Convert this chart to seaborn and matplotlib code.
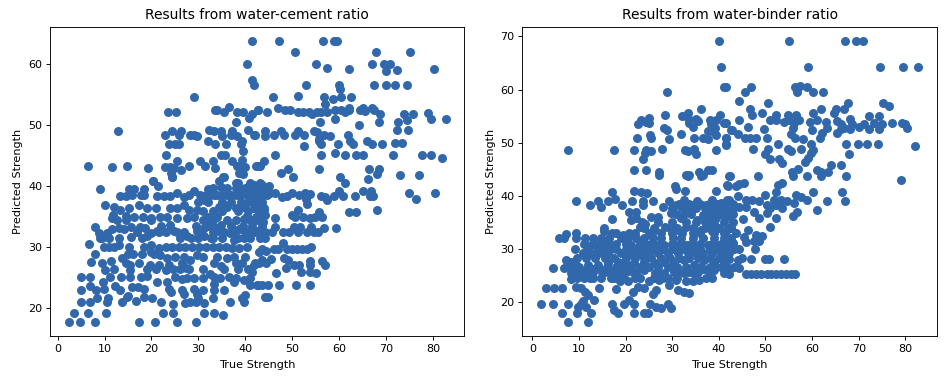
import matplotlib
matplotlib.use("Agg")
import matplotlib.pyplot as plt
import pandas as pd
import seaborn as sns

POINT_COLOR = "#3167ab"

# (true strength, predicted strength)
wc_upper = [
    (41.3,63.9),(40.4,60.1),(41.5,57.5),(41.8,56.7),(29.1,54.7),(23.5,52.2),(25.2,52.2),(33.5,52.5),(34,52.5),
    (35.5,52.2),(36.5,53),(38.2,52.2),(39.4,52.2),(42.6,52.5),(41.4,51.9),(40.7,51.2),(38,50.6),(12.8,49.1),
    (22.9,48.5),(24.4,49.1),(25.8,48.5),(26.3,49.1),(28.3,48.5),(29,48.5),(29.7,48.3),(32.3,49.3),(33.4,49.1),
    (34.8,49.1),(35,48.3),(37.2,49.1),(37,48.5),(38.1,48.3),(40.5,49.3),(41.8,48.5),(23.8,46.9),(25.1,46.9),
    (25.8,46.9),(32.1,47.4),(33.5,46.9),(35.9,46.9),(39.2,47.4),(39,46.9),(39.5,45.8),(23,45.1),(25.5,44.2),
    (30.4,44.2),(33.2,44.2),(34.7,45.1),(35.6,45.1),(37.2,44.2),(39.2,44.4),(6.5,43.3),(11.7,43.2),(14.8,43.3),
    (19.3,43),(22.8,43.2),(24,43.2),(24.8,43),(26.2,42.7),(28,43.3),(31.4,43.3),(33.5,43),(38.1,43.3),(39.3,43),
    (40,43.2),(38.6,42.2),(39.4,42),(42.3,43.3),(43,43.4),(24.1,42.2),(24.3,41.5),(20.4,40.9),(35.2,41.5),(34.3,40.9),
    (47.1,63.9),(56.5,63.9),(58.9,63.9),(59.5,63.9),(50.6,62),(67.7,62),(75,62),(55,60.1),(57.4,59.4),(62,59.3),
    (67,60.1),(69.4,60.1),(70.8,60.1),(70,59),(72.2,59.1),(80.2,59.3),(52.8,56.7),(59.9,56.7),(60.2,55.9),(67.4,56.7),
    (69.9,56.7),(71.8,56.7),(74.3,56.7),(45.9,54.7),(51.1,54.8),(56.8,54.7),(58.7,54.4),(60.4,54.7),(62.5,54.7),
    (42.7,52.5),(44.6,52.2),(46.9,52.9),(48.5,52.5),(49.4,52.5),(51.1,52.2),(52.3,52.2),(53.5,52.2),(54.2,51.9),
    (55.3,52.2),(56,52.2),(57.4,52.2),(56.9,53.5),(59.1,51),(59,52.5),(60.4,52.5),(61.3,52.2),(62,52.9),(62.1,52.5),
    (64.4,52.5),(65,52.9),(65.5,52.4),(66.9,52.9),(67.4,52.5),(68.7,51.8),(68.5,50.6),(55.8,50.6),(64.2,50.1),
    (73.8,51.8),(75.6,51.8),(74.4,50.9),(72.4,50.6),(72.2,49.3),(74.6,49.3),(78.8,52.1),(79.5,51),(82.6,51),
    (42.1,48.5),(44.1,49.1),(44.2,48.3),(46,48.5),(47.5,49.1),(48.2,48.5),(50.6,48.5),(51.1,49.1),(52.4,48.5),
    (54.5,49.1),(55.2,48.9),(56.7,48.5),(58,48.3),(61.8,48.5),(55.6,47.7),(56,46.9),(55.6,47.4),(52.4,46.6),
    (59.7,46.9),(62.2,47.4),(63,46.9),(65.8,47.4),(66.9,46.9),(69,46.9),(71.8,47.1),(73.4,47.1),(46.4,45.1),
    (56,45.1),(59.1,45.5),(61.3,45.1),(63.6,45.1),(65,45.1),(71.4,45.1),(77.5,45.1),(79.5,45.1),(81.9,44.7),
    (43.9,44.2),(42.7,43.4),(47.5,42.2),(49,42.9),(50.2,41.5),(55.6,42.9),(60.1,41.5),(66.3,42.9),(68.4,42.9),
    (68,42.1),(66.1,41.3),(73,41.9),(77,41.9),
]
wc_lower_right = [
    (61.3,40.5),(42.5,40),(43.5,40.2),(45,40),(45.3,38.9),(46.4,39),(47.7,38.2),(48.9,38.5),(50,38.9),(51.4,38.6),
    (52.6,39),(52.8,38),(53.7,38.8),(53.1,37.2),(56,38.5),(57,38.2),(57.4,37.8),(58.8,38.5),(59.9,39.3),(60.7,38.5),
    (63.3,38.5),(65,39.3),(66.7,39.3),(66.6,38.4),(67.2,38.4),(74.8,39),(76.4,38),(80.3,38.9),(62,35.8),(63.5,35.8),
    (68,36.1),(51.1,36.1),(50,35.4),(50.6,35),(52.3,35),(53.7,34.8),(54.9,35),(55.6,35.8),(56.3,35),(46.4,34.8),
    (43.7,34.2),(43.9,36.1),(44.2,35.3),(42.8,35.6),(42.1,32.5),(43.2,32.5),(44.2,32.5),(45.7,32.5),(46.4,33.3),
    (48,32.5),(49.2,32.5),(50.3,33.3),(51.2,32.5),(51.7,33.3),(53.1,32.5),(54,33.3),(54.7,32.5),(55.5,32.5),
    (56.7,33.2),(59.3,33.2),(44.2,31.5),(43.5,29.8),(44.4,29.4),(46,29.8),(47,29.8),(48,30.7),(48.9,29.8),(50,29.8),
    (51,29.8),(52,29.8),(53.1,29.8),(54,30.1),(42.1,27.4),(43.5,27.9),(44.4,27.4),(45.5,28.1),(48.2,28.2),(49,27.9),
    (48.7,26.6),(50.3,27.2),(51.4,27.1),(51.9,26),(53.8,27.7),(53.8,26),(55,25.8),(56.2,27.7),(56.9,27.2),(46.5,25.8),
    (53.8,27.1),(42.5,23.8),(43.5,23.8),(44.8,23.8),(47.1,23.8),(50.8,23.8),(53.8,23.8),(44.2,21.9),(44.8,21.9),
    (42.1,39.2),(43.2,39.5),(44.2,39.5),(42.5,38),(42.8,37.2),(42.1,36.4),(43.9,36.4),(43.2,35.3),(42.3,35),
]
wc_lower_left = [
    (2.4,17.8),(4.7,17.8),(7.9,17.8),(17.3,17.8),(20.8,17.8),(25.5,17.8),(29.4,17.8),(3.5,19.2),(6.5,19.2),(10.3,19.2),
    (22.5,19.2),(24.5,19.2),(31.2,19.2),(33.3,19.2),(35.3,19),(4.9,21.1),(7,21),(8.4,21.7),(10.7,21.7),(10.6,21.1),
    (13.8,21.1),(14.7,21.8),(16.7,21.2),(18.4,21.8),(20.2,21.7),(22,21),(24.5,20.7),(27.1,20.9),(28.3,21.1),(29.4,21.1),
    (30,21.7),(31.2,20.9),(33,21.7),(36.7,21.1),(39.7,21.1),(40,22.2),(39.3,21.7),(4.9,23.1),(7,23.6),(8.1,23),(9.7,24.3),
    (9.9,23.2),(12.3,23.6),(13.4,23),(14.9,22),(15.8,23.5),(17.1,23.5),(18.4,23.2),(21.2,24.3),(23.7,23.2),(24.2,22.7),
    (26.5,23),(26.9,22.4),(29,23.2),(31,23),(29.7,22.4),(33.3,23),(35.5,23),(41,23.8),(42.6,23.8),(5.1,25.1),(7,25.1),
    (11.1,25.1),(13.6,25.1),(15.5,25.1),(17.7,25.1),(19,25.4),(23.2,24.4),(25.1,25.1),(26.5,24.8),(32.4,25.7),(33.3,25.1),
    (33.3,24),(36.5,25.1),(37.5,24.3),(39.6,24.6),(7.2,27.6),(7.9,28.9),(9.5,27.4),(10.2,26.3),(11.3,27.7),(13.8,28.2),
    (14.5,27.4),(15.5,27.1),(17.3,27.4),(15.5,26.3),(19.6,27.1),(21.6,27.1),(23,26.3),(23.7,27.1),(26.5,27.4),(28.3,27.9),
    (27.4,26.6),(29.7,28.8),(33.3,27.4),(34.7,26.9),(36.1,28.2),(37.9,27.5),(39.3,27.4),(41.8,27.1),(41.4,26),(42.8,27.5),
    (6.7,30.5),(15.2,30.1),(9.9,30.1),(10.9,30.1),(12,30.1),(13,30.4),(18.4,30.1),(19.8,30.4),(21.6,29.9),(23,30.1),
    (24.4,30.1),(25.8,30.1),(27.2,30.1),(28.7,30.1),(30.1,30.1),(31.5,30.1),(33,30.1),(34.3,30.1),(35.8,30.1),(37.2,29.9),
    (38.6,29.9),(40.4,30),(42.8,29.3),(21.9,28.7),(23.3,28.2),(19.8,29.2),(7.9,33.3),(8.8,32.4),(9.5,31.6),(10.6,32.4),
    (11.7,33),(13,33.2),(14.1,33),(15.7,33.4),(15.7,31.7),(17.5,33.3),(18.7,33.2),(19.8,32.4),(21.2,32.7),(18,31.6),
    (19.1,31.9),(24,33.7),(24.8,32.7),(26.2,32.1),(27.6,31.9),(29.7,32.7),(31.1,33.2),(32.2,34.3),(33.3,33.4),(31.1,31.9),
    (34,32.7),(32.6,31.6),(36.8,32.4),(38.6,33),(39.6,34.6),(40.4,35.2),(41,32.7),(42.5,32.7),(37.5,31.3),(39.6,31.6),
    (34.7,33.7),(10.1,36.9),(12,36.7),(13.4,36.2),(15.2,36.4),(17.3,36.9),(19.1,36.4),(21,36.4),(24,36.4),(25.5,36.4),
    (26.9,37),(28,36.2),(29.7,36.2),(34.3,36.7),(36.1,36.7),(37.9,36.4),(39.6,36.7),(41.8,36.4),(11.6,34.8),(11.8,35.3),
    (14.5,35.2),(16.2,35),(18.2,35),(19.8,34.8),(21.9,35),(23.3,35),(25.5,34.8),(27.6,34.8),(29,35),(32,35),(34,35),
    (9.1,39.6),(13.4,38.5),(15.2,39.6),(16.2,39.6),(18.4,39.6),(14.5,38.5),(15.9,38.6),(17.7,38.6),(18.4,38.6),(21.2,38.5),
    (22.6,38.5),(24,38.5),(25.5,39),(26.9,38.3),(29,39.3),(30.4,38.6),(32.1,39.6),(33.3,38.6),(34.7,39.9),(35.4,41.6),
    (36.1,38.6),(37.9,40.5),(39.3,39.6),(40.4,38.6),(41.8,40.2),(42.8,39.2),(41,37.6),(37.9,38.6),(31.1,37.8),(20.4,40.9),
    (21.3,40),(24.3,41.5),
]
# the solid middle of the cloud, one predicted value with its true values per row
wc_dense = [
    (40.5, [38.5, 41, 43]),
    (39.8, [33, 36, 38, 40, 41, 42.5, 44]),
    (38.6, [27.9, 31.5, 32.5, 34, 35, 37, 38.8, 41, 42, 43.5, 44.5]),
    (37.5, [30, 32, 35, 37, 39, 40.5, 42, 43.5]),
    (36, [31, 33, 35, 38.5, 40.5, 43]),
    (34.5, [12.7, 14.5, 20, 31, 33, 36, 38, 41, 42.5]),
    (33.5, [22, 29.5, 32, 37, 39.5, 41.5, 43.5]),
    (32.5, [17, 21.5, 23, 25.5, 27, 30.5, 33, 35.5, 37.5, 40]),
    (31.5, [9, 11, 13, 26, 28.5, 30, 33, 35, 38.5, 41, 43]),
    (29, [15, 16, 18, 20.5]),
    (28.5, [25, 27, 31, 34, 37.5, 40]),
    (26.5, [12, 19, 21, 24.5, 26, 28, 31, 35.5, 38.5, 40.5]),
    (25, [27.5, 29, 31, 34.5, 38, 41]),
]

# (true strength, predicted strength)
wb_upper = [
    (40.1,69.2),(40.5,64.2),(41.2,60.4),(28.8,59.6),(36.2,56.3),(28.5,55.2),(25,54.6),(23.2,54.2),(22.7,53.5),(24.4,53.9),
    (25,53.8),(32.2,55.1),(33.3,55.6),(33.3,54.7),(33.6,53.8),(34.4,53),(35.5,54),(35.1,54.5),(38,54.3),(39.4,54.3),
    (40.3,55.2),(41.1,53.8),(38.3,53.5),(39.2,52.8),(37.7,52.2),(38.6,52.2),(39.4,51.4),(28.3,52.7),(28.8,52.3),(25.3,51.4),
    (25.5,50.9),(22.5,50.9),(29.4,50.7),(31.9,51.7),(34.7,50.9),(36.7,50.9),(37.7,50.7),(41.5,50.9),(42.7,52.3),(41.6,49.6),
    (7.6,48.7),(17.6,48.7),(21.7,48.7),(24.4,48.7),(24.2,48),(25.5,48.4),(23.8,47),(27.9,48.9),(32.7,48.7),(33.3,48.4),
    (34.7,48.9),(35.1,47.9),(39.4,48.7),(21.7,44.8),(24.4,44.8),(27.2,44.4),(33,43.9),(33.6,43.9),(35.8,44.4),(36.5,43.9),
    (37.7,44.8),(38.6,44.8),(42.2,43.8),(55,69.2),(67,69.2),(69.4,69.2),(70.9,69.2),(59.1,64.2),(74.6,64.2),(79.5,64.2),
    (82.7,64.2),(41.5,60.4),(46.8,60.4),(45.6,59.6),(44.4,57.9),(56.3,60.4),(57.3,60.6),(59,60.4),(56.7,59.6),(60.3,59.6),
    (62.4,59.6),(50.5,57.4),(46.6,56.4),(47.2,55.2),(49.2,55.6),(44.4,54.3),(41.5,53.8),(46.2,53),(42.8,52.3),(44.1,51.7),
    (49.7,52.6),(50.9,54.3),(52.2,55.3),(52.2,54.3),(53.9,53.9),(54.9,55.3),(55,54.2),(56.5,55.3),(57.2,54.3),(56.1,53.8),
    (56,52.7),(55.4,51.7),(56.3,50.9),(58,50.7),(50.3,50.9),(47.9,50.9),(45.6,50.9),(46.6,50.9),(41.5,50.9),(41.6,49.7),
    (52.6,49.7),(47.3,48.9),(50.6,48.9),(50,47.9),(51,47),(54.9,48.9),(55.4,48.4),(57.6,48.9),(59.8,49.7),(60.2,48.7),
    (59.7,48),(59.2,47.1),(58.5,46.4),(52.8,47),(53.5,46.1),(64,45.8),(66.1,45.8),(56.9,45),(55.6,44.4),(56,43.8),(58.9,43.8),
    (61.1,44.8),(62,44.4),(62,43.8),(63.5,44.4),(67.2,43.8),(42.4,43.8),(48.3,43.8),(79,43),(60.3,55.5),(62,56.4),(59.6,53.9),
    (59.9,52.4),(61.1,54.2),(62.1,51.8),(61.8,50.9),(62.9,53.9),(63.3,52.8),(64.6,55.6),(65.1,56.4),(66.8,56.4),(67.7,57.4),
    (65.4,54.1),(66.1,53.5),(66.8,52.8),(65.4,51.8),(66.1,52.5),(68.2,54.4),(68.6,53.5),(68.2,52.5),(70,53),(71.1,53.5),
    (72.1,55.1),(72.1,52.5),(73.2,53.8),(74.4,55.1),(74.4,52.5),(75,53.5),(75.2,57.4),(76.4,56.9),(77.1,53.8),(79.3,53.7),
    (80,53.5),(80.4,52.7),(67.3,49.7),(69.8,49.7),(71.8,49.7),(74.2,49.7),(82,49.4),(67.9,47.8),
]
wb_lower_right = [
    (53.6,42.5),(52.6,42),(44.4,42.2),(45.4,42.4),(43.6,41.8),(41.8,42),(52.2,40.8),(49.8,40.2),(60.3,40.7),(66.4,40.7),
    (56.5,40.2),(57.6,39.7),(59,39.2),(63.2,39),(67,39),(44,39.9),(41.8,39.3),(45.8,39.3),(47.2,39.3),(48.6,39),(50.4,38.3),
    (51.8,39.3),(53.3,39.3),(54.7,39),(56.1,38.6),(44.4,38),(45.8,38),(51,37.7),(52.2,38.3),(53.6,37.7),(56.7,36.9),(55.8,36.3),
    (61.1,37.3),(47.6,36.9),(48.6,35.8),(52.2,35.8),(50.4,36.7),(42.2,37.1),(42,36.2),(45.1,35.7),(51,34.1),(46.2,33.6),
    (42.6,33.9),(41.5,33.3),(43.6,33),(47.9,32.7),(49.2,32.5),(45.4,32.3),(42.6,32),(48.6,31.5),(47.6,31.5),(45.8,31.4),
    (43,31.1),(42.2,30.1),(43.3,30.1),(44.4,30.1),(47.8,30.1),(41.5,28.2),(42.2,28.2),(44,27.9),(45,28.3),(47,28.2),(49.9,28.2),
    (50.8,28.2),(53.9,28.2),(41.8,26.7),(43.3,26.7),(44.4,26.4),(42.2,25.3),(45.8,25.3),(46.8,25.3),(47.9,25.3),(49,25.3),
    (50.4,25.3),(51.1,25.3),(52.2,25.3),(53.3,25.3),(54.3,25.3),(55.4,25.3),(56.3,25.3),
]
wb_lower_left = [
    (7.6,16.3),(12,16.3),(6.3,18),(1.9,19.7),(4.4,19.7),(7.6,19.7),(9.8,19.1),(10.5,19.7),(11.6,19.1),(12.5,18),(9.6,18),
    (10.8,20.2),(13.3,20.4),(17,19.7),(17.6,18.5),(18.3,18),(19.7,19.7),(20.8,20.4),(21.7,19.7),(21.9,18),(23.9,18),(24.7,18),
    (25.3,19.7),(26.5,19.1),(27.6,19),(29,19.7),(29.7,19),(3,22.6),(4.6,22.6),(6.3,22.6),(4.5,26.4),(6.7,26.4),(18,22.4),
    (14.2,22.6),(9.4,22.9),(11.2,22),(11.9,21.3),(10.5,22.6),(21.5,22),(22.6,22.9),(24,22.6),(25.8,21.6),(26.5,22.3),(31.2,22.3),
    (32.6,22),(33.7,21.8),(29.4,23.2),(30.8,24.1),(33,24),(34.4,24),(35.8,24.1),(37.2,24.5),(38.6,24.5),(20.5,24),(25.1,24),
    (27.2,24.1),(29,24.5),(18.7,24),(7.3,27.9),(8.3,27.5),(9.4,27),(8.3,25.4),(8.3,24.3),(10.1,26),(11.2,25.1),(12.3,24.5),
    (13,26.3),(14.8,24.5),(15.5,25.7),(16.9,24.5),(18.3,25.7),(11.9,27),(14,27),(16.2,27.3),(18.3,27.5),(20.5,27),(22.2,25.7),
    (24,26),(26.2,25.4),(28.3,25.4),(30.4,25.7),(32.6,25.4),(34.7,25.4),(36.9,26.3),(39,26),(41.1,25.4),(42.2,26),(19.7,27.6),
    (21.9,27.3),(24,27.6),(26.2,27.3),(28.3,27.6),(30.4,27.3),(32.6,27.9),(34.7,27),(36.9,27.9),(39,27.3),(41.1,27.6),
    (10.8,29.2),(12.6,29.2),(14.4,29.2),(16.2,29.2),(19,29.2),(21.2,29.2),(23,29.2),(25.1,29.2),(26.9,29.2),(29,29.2),(31.2,29.2),
    (33.3,29.2),(35.1,29.2),(36.5,29.2),(38.6,29.2),(40.4,29.2),(42.2,29.2),(12.6,30.8),(14.4,30.8),(16.9,30.8),(21.2,30.8),
    (24.7,30.8),(26.5,30.8),(28.3,30.8),(31.2,30.8),(33,30.8),(34.7,30.8),(37.6,30.8),(39.7,30.8),(41.5,30.8),(5.8,32),(6.7,32),
    (9.4,32),(11.2,32),(13,32),(14.8,32),(16.5,32),(19,32),(20.5,32),(22.2,32),(24,32),(25.8,32),(27.6,32),(30.1,32),(31.9,32),
    (34.4,32),(36.5,32),(39,32),(41.1,32),(9.2,30),(16.9,30),(7.3,32.8),(9.4,33),(15.3,34),(15.3,33.3),(19.4,32.6),(20.8,33),
    (26.2,33.6),(28.5,34.1),(31.2,33.6),(33,34.2),(36.2,33.6),(38.6,33.3),(41.9,33.9),(17,35.7),(21.2,35.5),(22.2,35.8),
    (24.2,34.8),(25.5,36),(26.9,36),(23,34.2),(31.9,35.8),(35.4,35.5),(39.4,35.8),(37.6,35.2),(41.5,36.4),(9.3,39.1),(12.4,38.3),
    (14,39.1),(14.8,38),(16.2,39.1),(17.8,39.4),(19.3,38.3),(21.3,39.1),(23.7,39.1),(25.8,39.1),(23.7,38.3),(20.8,37),(22.3,37),
    (28,38),(29.4,39),(30.8,38.3),(32.6,39.2),(34,38.3),(35.4,39),(37.2,38.3),(38.6,39.2),(40.4,38.6),(42.2,39.2),(34,37),
    (36.5,36.4),(29.7,36.7),(39,37.4),(17,40.8),(21.7,41),(23.3,40.8),(24.5,40.5),(30.6,41.8),(30.8,41.3),(32.7,41),(39.4,41),
    (41.9,41.9),(33.3,43.8),(27.2,44),(36.2,43.8),
]
wb_dense = [
    (38.5, [31.5, 33.5, 36, 37.8, 39.7, 41.3, 43]),
    (37.7, [30, 32, 33, 35, 37, 38, 40, 41, 43]),
    (36.5, [30.8, 32.5, 34, 37.8, 38.5, 40.5, 43]),
    (35, [23.5, 27, 30, 33, 35, 37, 39, 41, 43]),
    (34, [24, 26, 29.5, 31, 34.5, 37, 38.5, 40, 42.5]),
    (33, [17, 18, 22, 25, 27.5, 30, 32, 34.5, 36, 39, 41]),
    (31, [11, 13.5, 15.5, 18, 20, 23, 25.5, 27.5, 30, 32, 34, 36, 38.5, 40.5, 43]),
    (30, [12, 14, 15.5, 18, 20, 22.5, 24, 26, 28, 30, 32, 34, 36, 38, 40, 42]),
    (28.3, [9.5, 11.5, 13.5, 15.5, 17.5, 20, 22, 24, 25.5, 27.5, 29.5, 31.5, 33.5, 35.5, 38, 40, 42]),
    (26.7, [8, 10, 12, 14, 16, 18, 19.5, 21, 23, 25, 27, 29, 31, 33, 36, 38, 40.5]),
    (25.7, [9.5, 11, 13, 15, 17, 20, 21.5, 27, 31.5, 33.7, 35.6, 38]),
    (24.5, [9.5, 11, 13, 17.5, 19.5, 22, 23, 26, 28, 31]),
]

titles = ["Results from water-cement ratio", "Results from water-binder ratio"]


def build_frame(pairs, dense_rows):
    rows = list(pairs)
    for pred, true_values in dense_rows:
        rows += [(t, pred) for t in true_values]
    return pd.DataFrame(rows, columns=["true", "pred"])


plt.rcParams.update({
    "axes.linewidth": 0.65,
    "xtick.major.size": 2.8, "ytick.major.size": 2.8,
    "xtick.major.width": 0.65, "ytick.major.width": 0.65,
    "xtick.major.pad": 2.8, "ytick.major.pad": 2.8,
    "xtick.labelsize": 8, "ytick.labelsize": 8,
})

wc = build_frame(wc_upper + wc_lower_right + wc_lower_left, wc_dense)
wb = build_frame(wb_upper + wb_lower_right + wb_lower_left, wb_dense)

fig, axes = plt.subplots(1, 2, figsize=(9.52, 3.8), dpi=100)
for ax, data, title in zip(axes, [wc, wb], titles):
    sns.scatterplot(data=data, x="true", y="pred", ax=ax, color=POINT_COLOR, s=42, linewidth=0)
    ax.set_title(title, fontsize=10, pad=5.2)
    ax.set_xlabel("True Strength", fontsize=8.1, labelpad=4.5)
    ax.set_ylabel("Predicted Strength", fontsize=8.1, labelpad=3.5)
    ax.set_xticks(range(0, 81, 10))

fig.subplots_adjust(left=0.0525, right=0.984, bottom=0.116, top=0.93, wspace=0.14)
fig.savefig("out.png", dpi=100)
